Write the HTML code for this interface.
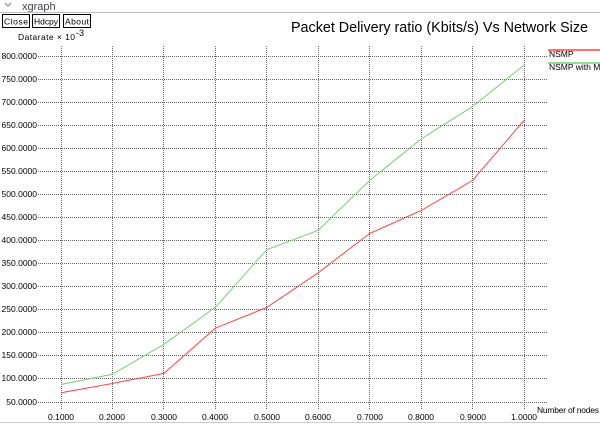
<!DOCTYPE html>
<html><head><meta charset="utf-8"><style>
html,body{margin:0;padding:0;background:#fff;width:600px;height:426px;overflow:hidden}
svg{display:block;font-family:"Liberation Sans",sans-serif}
</style></head><body>
<svg width="600" height="426" viewBox="0 0 600 426" xmlns="http://www.w3.org/2000/svg">
<rect width="600" height="426" fill="#fff"/>
<path d="M5 3 L8 6 L11 3" stroke="#99a" stroke-width="1.5" fill="none"/>
<text x="22" y="10" font-size="11" fill="#445">xgraph</text>
<line x1="0" y1="12.5" x2="600" y2="12.5" stroke="#bbb"/>
<line x1="0" y1="422.5" x2="600" y2="422.5" stroke="#ccc"/>
<g font-size="8.5" fill="#000">
<rect x="2.5" y="14.5" width="27" height="13" fill="#fff" stroke="#000"/><text x="4" y="24.5" textLength="24">Close</text>
<rect x="32.5" y="14.5" width="27" height="13" fill="#fff" stroke="#000"/><text x="34" y="24.5" textLength="24">Hdcpy</text>
<rect x="63.5" y="14.5" width="27" height="13" fill="#fff" stroke="#000"/><text x="65" y="24.5" textLength="24">About</text>
<text x="18" y="40" textLength="57">Datarate  × 10</text><text x="76" y="36" font-size="9">-3</text>
</g>
<text x="291" y="32" font-size="15" fill="#000" textLength="297" lengthAdjust="spacingAndGlyphs">Packet Delivery ratio (Kbits/s) Vs Network Size</text>
<g stroke="#666" stroke-width="1" stroke-dasharray="1,1">
<line x1="38" y1="56.5" x2="548" y2="56.5"/><line x1="38" y1="79.5" x2="548" y2="79.5"/><line x1="38" y1="102.5" x2="548" y2="102.5"/><line x1="38" y1="125.5" x2="548" y2="125.5"/><line x1="38" y1="148.5" x2="548" y2="148.5"/><line x1="38" y1="171.5" x2="548" y2="171.5"/><line x1="38" y1="194.5" x2="548" y2="194.5"/><line x1="38" y1="217.5" x2="548" y2="217.5"/><line x1="38" y1="240.5" x2="548" y2="240.5"/><line x1="38" y1="263.5" x2="548" y2="263.5"/><line x1="38" y1="286.5" x2="548" y2="286.5"/><line x1="38" y1="309.5" x2="548" y2="309.5"/><line x1="38" y1="332.5" x2="548" y2="332.5"/><line x1="38" y1="355.5" x2="548" y2="355.5"/><line x1="38" y1="378.5" x2="548" y2="378.5"/><line x1="38" y1="402.5" x2="548" y2="402.5"/>
<line x1="61.5" y1="46" x2="61.5" y2="410"/><line x1="112.5" y1="46" x2="112.5" y2="410"/><line x1="163.5" y1="46" x2="163.5" y2="410"/><line x1="215.5" y1="46" x2="215.5" y2="410"/><line x1="266.5" y1="46" x2="266.5" y2="410"/><line x1="318.5" y1="46" x2="318.5" y2="410"/><line x1="369.5" y1="46" x2="369.5" y2="410"/><line x1="421.5" y1="46" x2="421.5" y2="410"/><line x1="472.5" y1="46" x2="472.5" y2="410"/><line x1="524.5" y1="46" x2="524.5" y2="410"/>
</g>
<g font-size="8.5" fill="#000" text-anchor="end">
<text x="37" y="59">800.0000</text><text x="37" y="82">750.0000</text><text x="37" y="105">700.0000</text><text x="37" y="128">650.0000</text><text x="37" y="151">600.0000</text><text x="37" y="174">550.0000</text><text x="37" y="197">500.0000</text><text x="37" y="220">450.0000</text><text x="37" y="243">400.0000</text><text x="37" y="266">350.0000</text><text x="37" y="289">300.0000</text><text x="37" y="312">250.0000</text><text x="37" y="335">200.0000</text><text x="37" y="358">150.0000</text><text x="37" y="381">100.0000</text><text x="37" y="405">50.0000</text>
</g>
<g font-size="8.5" fill="#000" text-anchor="middle">
<text x="61" y="420">0.1000</text><text x="112" y="420">0.2000</text><text x="164" y="420">0.3000</text><text x="215" y="420">0.4000</text><text x="267" y="420">0.5000</text><text x="318" y="420">0.6000</text><text x="370" y="420">0.7000</text><text x="421" y="420">0.8000</text><text x="473" y="420">0.9000</text><text x="524" y="420">1.0000</text>
</g>
<text x="537" y="413" font-size="8.5" fill="#000" textLength="62">Number of nodes</text>
<polyline fill="none" stroke="#f44" stroke-width="1" points="61,392.8 112.4,383.5 163.9,373.4 215.3,328.2 266.8,307.4 318.2,272.8 369.6,233.5 421.1,210.5 472.5,180.5 524,120.5"/>
<polyline fill="none" stroke="#7c7" stroke-width="1" points="61,384.5 112.4,374.3 163.9,344.3 215.3,307.4 266.8,249.7 318.2,230.3 369.6,180.5 421.1,139 472.5,106.6 524,65.1"/>
<line x1="548" y1="50" x2="600" y2="50" stroke="#f44" stroke-width="1.5"/>
<text x="549" y="57" font-size="8.5" fill="#000">NSMP</text>
<line x1="548" y1="63" x2="600" y2="63" stroke="#7c7" stroke-width="1.5"/>
<text x="549" y="70" font-size="8.5" fill="#000">NSMP with M</text>
</svg>
</body></html>
